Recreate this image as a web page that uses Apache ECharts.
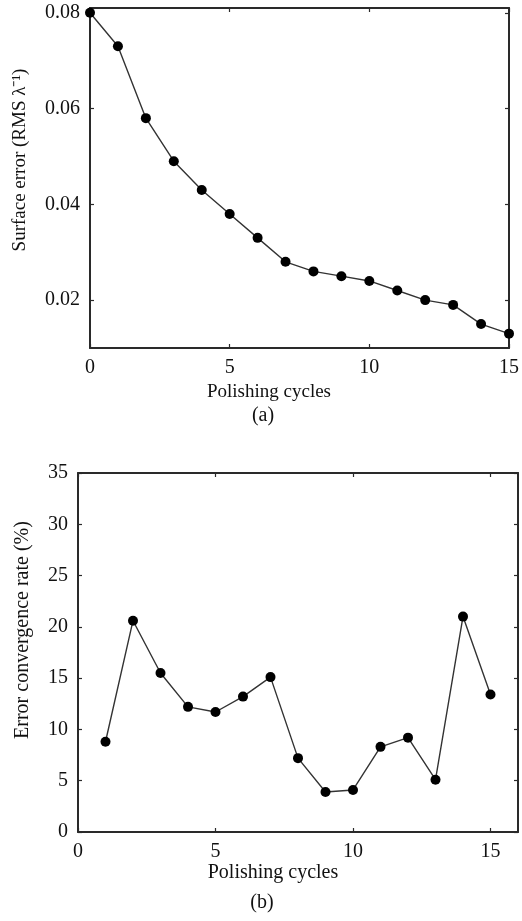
<!DOCTYPE html>
<html>
<head>
<meta charset="utf-8">
<script src="https://cdn.jsdelivr.net/npm/echarts@6/dist/echarts.min.js"></script>
<style>
  html, body { margin: 0; padding: 0; background: #fff; }
  #chart { width: 522px; height: 921px; }
</style>
</head>
<body>
<div id="chart"></div>
<script>
// (a) surface error vs polishing cycles
var cyclesA = [0, 1, 2, 3, 4, 5, 6, 7, 8, 9, 10, 11, 12, 13, 14, 15];
var surfaceError = [0.080, 0.073, 0.058, 0.049, 0.043, 0.038, 0.033, 0.028, 0.026, 0.025, 0.024, 0.022, 0.020, 0.019, 0.015, 0.013];
var xTicksA = [0, 5, 10, 15];
var yTicksA = [0.02, 0.04, 0.06, 0.08];

// (b) error convergence rate vs polishing cycles
var cyclesB = [1, 2, 3, 4, 5, 6, 7, 8, 9, 10, 11, 12, 13, 14, 15];
var convergenceRate = [8.8, 20.6, 15.5, 12.2, 11.7, 13.2, 15.1, 7.2, 3.9, 4.1, 8.3, 9.2, 5.1, 21.0, 13.4];
var xTicksB = [0, 5, 10, 15];
var yTicksB = [0, 5, 10, 15, 20, 25, 30, 35];

var serif = "'Liberation Serif', 'Times New Roman', serif";
var ink = '#111';

function pairs(xs, ys) {
  return xs.map(function (x, i) { return [x, ys[i]]; });
}

// frame axis: line + inward ticks, labels only on bottom/left
function axis(gridIndex, position, min, max, ticks, showLabel, fontSize) {
  return {
    type: 'value',
    gridIndex: gridIndex,
    position: position,
    min: min,
    max: max,
    axisLine: { show: true, onZero: false, lineStyle: { color: '#2a2a2a', width: 2 } },
    axisTick: { show: true, inside: true, length: 4, customValues: ticks, lineStyle: { color: '#2a2a2a', width: 1.2 } },
    axisLabel: {
      show: showLabel,
      customValues: ticks,
      fontFamily: serif,
      fontSize: fontSize,
      color: ink,
      margin: 10
    },
    splitLine: { show: false }
  };
}

function lineSeries(xi, yi, data) {
  return {
    type: 'line',
    xAxisIndex: xi,
    yAxisIndex: yi,
    data: data,
    clip: false,
    symbol: 'circle',
    symbolSize: 10,
    itemStyle: { color: '#000' },
    lineStyle: { color: '#333', width: 1.4 },
    animation: false
  };
}

function label(x, y, text, size, rotate) {
  return {
    type: 'text',
    x: x,
    y: y,
    rotation: rotate ? Math.PI / 2 : 0,
    style: {
      text: text,
      font: size + 'px ' + serif,
      fill: ink,
      align: 'center',
      verticalAlign: 'middle'
    }
  };
}

var myChart = echarts.init(document.getElementById('chart'));
myChart.setOption({
  backgroundColor: '#fff',
  animation: false,
  grid: [
    { left: 90, top: 8, right: 6, height: 340 },
    { left: 78, top: 473, right: 4, height: 359 }
  ],
  xAxis: [
    axis(0, 'bottom', 0, 15, xTicksA, true, 20),
    axis(0, 'top', 0, 15, xTicksA, false, 20),
    axis(1, 'bottom', 0, 16, xTicksB, true, 20),
    axis(1, 'top', 0, 16, xTicksB, false, 20)
  ],
  yAxis: [
    axis(0, 'left', 0.01, 0.081, yTicksA, true, 20),
    axis(0, 'right', 0.01, 0.081, yTicksA, false, 20),
    axis(1, 'left', 0, 35, yTicksB, true, 20),
    axis(1, 'right', 0, 35, yTicksB, false, 20)
  ],
  graphic: [
    label(20, 160, 'Surface error (RMS \u03bb\u207b\u00b9)', 19, true),
    label(269, 392, 'Polishing cycles', 19, false),
    label(263, 416, '(a)', 20, false),
    label(23, 630, 'Error convergence rate (%)', 20, true),
    label(273, 873, 'Polishing cycles', 20, false),
    label(262, 903, '(b)', 20, false)
  ],
  series: [
    lineSeries(0, 0, pairs(cyclesA, surfaceError)),
    lineSeries(2, 2, pairs(cyclesB, convergenceRate))
  ]
});
</script>
</body>
</html>
